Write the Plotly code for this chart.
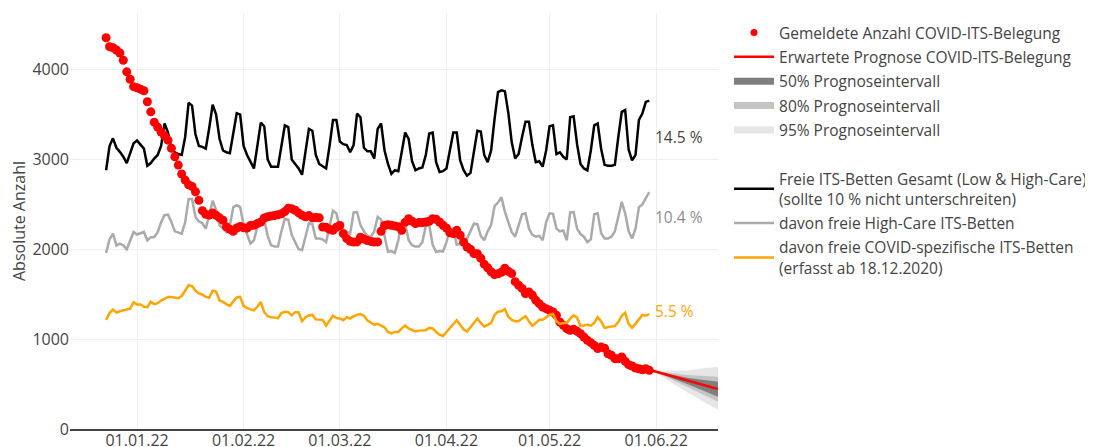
import pandas as pd
import plotly.graph_objects as go

# ---------------- data ----------------
start_date = "2021-12-23"
n_days = 159
dates = pd.date_range(start_date, periods=n_days, freq="D")

gemeldet = [4355, 4255, 4243, 4218, 4185, 4104, 3975, 3893, 3810, 3798,
            3782, 3765, 3642, 3530, 3415, 3360, 3305, 3262, 3215, 3125,
            3030, 2937, 2838, 2770, 2718, 2700, 2640, 2545, 2430, 2390,
            2380, 2405, 2378, 2350, 2323, 2250, 2222, 2200, 2237, 2255,
            2240, 2235, 2265, 2268, 2286, 2304, 2349, 2362, 2370, 2376,
            2385, 2395, 2420, 2458, 2452, 2435, 2405, 2380, 2362, 2375,
            2350, 2353, 2350, 2248, 2246, 2222, 2211, 2246, 2265, 2174,
            2119, 2089, 2081, 2082, 2135, 2115, 2098, 2088, 2080, 2082,
            2200, 2265, 2272, 2267, 2260, 2250, 2211, 2300, 2340, 2313,
            2287, 2297, 2297, 2304, 2312, 2340, 2334, 2304, 2268, 2237,
            2185, 2174, 2211, 2156, 2081, 2026, 2000, 1952, 1950, 1900,
            1835, 1795, 1750, 1720, 1728, 1745, 1790, 1755, 1730, 1640,
            1600, 1565, 1506, 1525, 1488, 1432, 1395, 1358, 1339, 1321,
            1302, 1265, 1191, 1154, 1117, 1098, 1109, 1087, 1061, 1024,
            987, 961, 931, 895, 912, 900, 838, 820, 783, 783,
            801, 753, 716, 701, 679, 671, 660, 671, 653]

freie_gesamt = [2880, 3150, 3235, 3130, 3085, 3030, 2960, 3080, 3180, 3210,
                3170, 3120, 2930, 2960, 3010, 3050, 3150, 3400, 3300, 3120,
                3080, 3060, 3050, 3250, 3630, 3600, 3280, 3150, 3140, 3120,
                3350, 3610, 3500, 3230, 3100, 3080, 3070, 3300, 3515, 3500,
                3150, 3050, 2970, 2900, 3150, 3410, 3370, 3000, 2920, 2920,
                2920, 3150, 3380, 3360, 3000, 2950, 2900, 2830, 3100, 3340,
                3320, 3050, 2950, 2920, 2900, 3150, 3440, 3440, 3200, 3170,
                3160, 3080, 3160, 3510, 3470, 3130, 3090, 3090, 3010, 3340,
                3400, 3100, 2950, 2840, 2880, 2870, 3100, 3300, 3230, 2980,
                2880, 2900, 2910, 3050, 3290, 3300, 2970, 2860, 2870, 2900,
                3100, 3300, 3300, 2990, 2880, 2820, 2850, 3100, 3320, 3310,
                3050, 2970, 3100, 3450, 3750, 3770, 3760, 3520, 3190, 3010,
                3060, 3250, 3420, 3420, 3160, 2970, 2980, 2920, 3100, 3370,
                3380, 3060, 3080, 3030, 3000, 3470, 3480, 3170, 2950, 2900,
                2880, 3100, 3380, 3400, 3120, 2940, 2930, 2930, 2940, 3250,
                3530, 3550, 3110, 2990, 3050, 3440, 3510, 3640, 3655]

freie_highcare = [1960, 2110, 2174, 2044, 2063, 2044, 2000, 2100, 2193, 2165,
                  2175, 2193, 2100, 2135, 2137, 2190, 2300, 2380, 2386, 2304,
                  2200, 2190, 2174, 2300, 2560, 2560, 2360, 2310, 2290, 2230,
                  2380, 2540, 2440, 2267, 2230, 2193, 2260, 2470, 2490, 2470,
                  2270, 2160, 2065, 2100, 2250, 2340, 2330, 2150, 2045, 2030,
                  2030, 2200, 2340, 2330, 2160, 2080, 2000, 1990, 2150, 2290,
                  2280, 2120, 2120, 2110, 2080, 2270, 2430, 2400, 2230, 2220,
                  2200, 2175, 2410, 2415, 2270, 2200, 2150, 2140, 2200, 2360,
                  2330, 2150, 1970, 1980, 1960, 2100, 2300, 2290, 2100, 2045,
                  2030, 2030, 2080, 2260, 2267, 2050, 1970, 1980, 1975, 2080,
                  2220, 2230, 2050, 2060, 2100, 2120, 2200, 2285, 2280, 2150,
                  2100, 2200, 2270, 2480, 2520, 2580, 2420, 2300, 2190, 2140,
                  2270, 2390, 2400, 2230, 2160, 2140, 2150, 2100, 2300, 2400,
                  2395, 2230, 2200, 2210, 2100, 2410, 2415, 2230, 2170, 2140,
                  2080, 2110, 2390, 2400, 2180, 2120, 2120, 2140, 2200, 2380,
                  2527, 2400, 2200, 2120, 2230, 2470, 2500, 2570, 2635]

freie_covid = [1215, 1290, 1330, 1295, 1310, 1320, 1330, 1340, 1410, 1385,
               1385, 1360, 1355, 1415, 1390, 1400, 1430, 1450, 1470, 1470,
               1465, 1455, 1480, 1540, 1600, 1590, 1540, 1510, 1495, 1470,
               1460, 1540, 1530, 1430, 1415, 1390, 1370, 1420, 1465, 1470,
               1370, 1345, 1335, 1320, 1360, 1415, 1300, 1255, 1245, 1240,
               1235, 1290, 1305, 1300, 1265, 1300, 1300, 1200, 1245, 1265,
               1270, 1220, 1215, 1215, 1150, 1210, 1260, 1235, 1230, 1210,
               1245, 1230, 1255, 1270, 1280, 1260, 1210, 1185, 1160, 1170,
               1150, 1130, 1080, 1065, 1080, 1080, 1120, 1150, 1120, 1100,
               1085, 1095, 1095, 1100, 1125, 1120, 1080, 1050, 1035, 1080,
               1130, 1170, 1210, 1160, 1110, 1085, 1130, 1180, 1230, 1180,
               1140, 1160, 1180, 1270, 1305, 1310, 1335, 1250, 1215, 1200,
               1200, 1230, 1255, 1200, 1150, 1180, 1215, 1215, 1240, 1270,
               1280, 1200, 1170, 1180, 1180, 1230, 1265, 1240, 1145, 1155,
               1160, 1150, 1180, 1245, 1200, 1125, 1135, 1140, 1145, 1190,
               1260, 1295, 1170, 1125, 1170, 1215, 1270, 1260, 1280]

fc_dates = ["2022-05-31", "2022-06-05", "2022-06-10", "2022-06-15", "2022-06-19"]
fc_mean = [648, 595, 540, 485, 445]
fc_50_lo = [648, 575, 500, 425, 360]
fc_50_hi = [648, 612, 570, 545, 527]
fc_80_lo = [648, 560, 470, 380, 304]
fc_80_hi = [648, 625, 600, 590, 582]
fc_95_lo = [648, 530, 410, 300, 212]
fc_95_hi = [648, 645, 650, 675, 694]

pct_labels = ["14.5 %", "10.4 %", "5.5 %"]
pct_y = [3255, 2364, 1317]
pct_colors = ["#444444", "#8c8c8c", "#FFA500"]
label_date = "2022-05-31"

names = {
    "gemeldet": "Gemeldete Anzahl COVID-ITS-Belegung",
    "prognose": "Erwartete Prognose COVID-ITS-Belegung",
    "p50": "50% Prognoseintervall",
    "p80": "80% Prognoseintervall",
    "p95": "95% Prognoseintervall",
    "gesamt": "Freie ITS-Betten Gesamt (Low & High-Care)<br>(sollte 10 % nicht unterschreiten)",
    "high": "davon freie High-Care ITS-Betten",
    "covid": "davon freie COVID-spezifische ITS-Betten<br>(erfasst ab 18.12.2020)",
}

# ---------------- figure ----------------
FONT = '"Open Sans", verdana, arial, sans-serif'
FS = 16      # ticks
LFS = 15.5   # legend / labels
C_RED, C_BLACK, C_GRAY, C_ORANGE = "red", "black", "#aaaaaa", "#FFA500"
C50, C80, C95 = "#7f7f7f", "#c4c4c4", "#e6e6e6"

fig = go.Figure()


def band(lo, hi, color):
    return go.Scatter(x=fc_dates + fc_dates[::-1], y=hi + lo[::-1], fill="toself",
                      fillcolor=color, line=dict(width=0), mode="lines",
                      hoverinfo="skip", showlegend=False)


# drawn data (no legend)
fig.add_trace(band(fc_95_lo, fc_95_hi, C95))
fig.add_trace(band(fc_80_lo, fc_80_hi, C80))
fig.add_trace(band(fc_50_lo, fc_50_hi, C50))
fig.add_trace(go.Scatter(x=dates, y=freie_gesamt, mode="lines",
                         line=dict(color=C_BLACK, width=2.5), showlegend=False,
                         name=names["gesamt"]))
fig.add_trace(go.Scatter(x=dates, y=freie_highcare, mode="lines",
                         line=dict(color=C_GRAY, width=2.5), showlegend=False,
                         name=names["high"]))
fig.add_trace(go.Scatter(x=dates, y=gemeldet, mode="markers",
                         marker=dict(color=C_RED, size=9), showlegend=False,
                         name=names["gemeldet"]))
fig.add_trace(go.Scatter(x=dates, y=freie_covid, mode="lines",
                         line=dict(color=C_ORANGE, width=2.5), showlegend=False,
                         name=names["covid"]))
fig.add_trace(go.Scatter(x=fc_dates, y=fc_mean, mode="lines",
                         line=dict(color=C_RED, width=2.5), showlegend=False,
                         name=names["prognose"]))

# legend entries (in legend order)
legend_items = [
    ("gemeldet", dict(mode="markers", marker=dict(color=C_RED, size=7))),
    ("prognose", dict(mode="lines", line=dict(color=C_RED, width=2.5))),
    ("p50", dict(mode="lines", line=dict(color=C50, width=7))),
    ("p80", dict(mode="lines", line=dict(color=C80, width=7))),
    ("p95", dict(mode="lines", line=dict(color=C95, width=7))),
    (None, dict(mode="lines", line=dict(color="rgba(0,0,0,0)", width=0))),
    ("gesamt", dict(mode="lines", line=dict(color=C_BLACK, width=2.5))),
    ("high", dict(mode="lines", line=dict(color=C_GRAY, width=2.5))),
    ("covid", dict(mode="lines", line=dict(color=C_ORANGE, width=2.5))),
]
for i, (key, style) in enumerate(legend_items):
    fig.add_trace(go.Scatter(x=[None], y=[None], name=names[key] if key else " ",
                             legendgroup=f"g{i}", showlegend=True, hoverinfo="skip",
                             **style))

for txt, yv, col in zip(pct_labels, pct_y, pct_colors):
    fig.add_annotation(x=label_date, y=yv, text=txt, showarrow=False,
                       xanchor="left", yanchor="middle",
                       font=dict(size=LFS, color=col, family=FONT))

# page body has an 8px margin: figure is sized/offset accordingly
fig.update_layout(
    width=1085, height=439,
    template="none",
    paper_bgcolor="white", plot_bgcolor="white",
    font=dict(family=FONT, size=FS, color="#444"),
    margin=dict(l=62, r=375, t=5, b=18, autoexpand=False),
    showlegend=True,
    legend=dict(x=1.0170, y=0.993, xanchor="left", yanchor="top", itemwidth=40,
                font=dict(size=LFS, color="#444"), bgcolor="rgba(0,0,0,0)",
                traceorder="grouped", tracegroupgap=1.2),
    xaxis=dict(type="date", range=["2021-12-12 12:00", "2022-06-19"],
               tickformat="%d.%m.%y", dtick="M1", tick0="2022-01-01",
               showgrid=True, gridcolor="#eeeeee", gridwidth=1.25,
               showline=True, linecolor="#444", linewidth=1.5,
               zeroline=False, ticks="", ticklen=0, automargin=False,
               ticklabelstandoff=-4,
               tickfont=dict(size=FS, color="#444")),
    yaxis=dict(range=[0, 4630], dtick=1000, tick0=0,
               showgrid=True, gridcolor="#eeeeee", gridwidth=1.25,
               zeroline=False, showline=False, ticks="", ticklen=0, automargin=False,
               title=dict(text="Absolute Anzahl", font=dict(size=FS, color="#444"), standoff=8),
               tickfont=dict(size=FS, color="#444")),
)

fig.write_html("out.html")
